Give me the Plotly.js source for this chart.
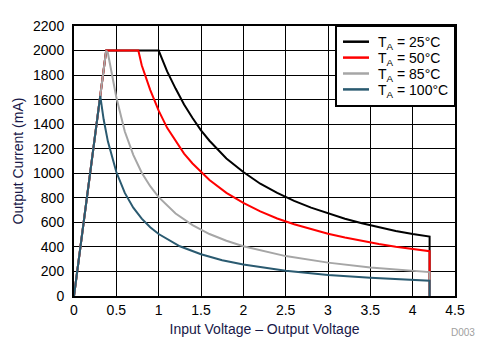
<!DOCTYPE html>
<html>
<head>
<meta charset="utf-8">
<script src="https://cdn.plot.ly/plotly-3.0.1.min.js"></script>
<style>html,body{margin:0;padding:0;background:#fff;}#chart{width:493px;height:362px;}</style>
</head>
<body>
<div id="chart"></div>
<script>
// Input voltage - output voltage (V) and output current (mA) per ambient temperature
const seriesNames = ["T<sub>A</sub> = 25°C", "T<sub>A</sub> = 50°C", "T<sub>A</sub> = 85°C", "T<sub>A</sub> = 100°C"];
const seriesColors = ["#000000", "#ff0000", "#a6a6a6", "#2a5a70"];

const x25 = [0, 0.05, 0.1, 0.15, 0.2, 0.25, 0.31, 0.38, 1.0, 1.1, 1.2, 1.3, 1.4, 1.5, 1.6, 1.8, 2.0, 2.2, 2.4, 2.6, 2.8, 3.0, 3.2, 3.4, 3.6, 3.8, 4.0, 4.2, 4.2];
const y25 = [0, 250, 520, 790, 1050, 1320, 1630, 2000, 2000, 1830, 1690, 1560, 1450, 1350, 1265, 1120, 1010, 915, 840, 775, 720, 672, 630, 593, 560, 530, 505, 484, 0];

const x50 = [0, 0.05, 0.1, 0.15, 0.2, 0.25, 0.31, 0.38, 0.76, 0.8, 0.9, 1.0, 1.1, 1.2, 1.3, 1.4, 1.5, 1.6, 1.8, 2.0, 2.2, 2.4, 2.6, 2.8, 3.0, 3.2, 3.4, 3.6, 3.8, 4.0, 4.2, 4.2];
const y50 = [0, 250, 520, 790, 1050, 1320, 1630, 2000, 2000, 1880, 1680, 1510, 1370, 1260, 1160, 1080, 1010, 945, 840, 758, 690, 632, 585, 543, 507, 476, 448, 424, 402, 382, 365, 0];

const x85 = [0, 0.05, 0.1, 0.15, 0.2, 0.25, 0.31, 0.38, 0.4, 0.45, 0.5, 0.6, 0.7, 0.8, 0.9, 1.0, 1.2, 1.4, 1.6, 1.8, 2.0, 2.5, 3.0, 3.5, 4.0, 4.2, 4.2];
const y85 = [0, 250, 520, 790, 1050, 1320, 1630, 2000, 1980, 1790, 1620, 1340, 1150, 1005, 895, 805, 672, 577, 505, 450, 405, 325, 272, 233, 204, 195, 0];

const x100 = [0, 0.05, 0.1, 0.15, 0.2, 0.25, 0.31, 0.35, 0.4, 0.5, 0.6, 0.7, 0.8, 0.9, 1.0, 1.25, 1.5, 1.75, 2.0, 2.5, 3.0, 3.5, 4.0, 4.2, 4.2];
const y100 = [0, 250, 520, 790, 1050, 1320, 1630, 1440, 1260, 1010, 840, 720, 630, 560, 505, 405, 340, 292, 256, 206, 172, 148, 130, 125, 0];

const xTickVals = [0, 0.5, 1, 1.5, 2, 2.5, 3, 3.5, 4, 4.5];
const xTickText = ["0", "0.5", "1", "1.5", "2", "2.5", "3", "3.5", "4", "4.5"];
const yTickVals = [0, 200, 400, 600, 800, 1000, 1200, 1400, 1600, 1800, 2000, 2200];
const yTickText = ["0", "200", "400", "600", "800", "1000", "1200", "1400", "1600", "1800", "2000", "2200"];

const xs = [x25, x50, x85, x100];
const ys = [y25, y50, y85, y100];
const traces = xs.map((x, i) => ({
  x: x, y: ys[i], type: "scatter", mode: "lines", name: seriesNames[i],
  line: {color: seriesColors[i], width: 2}, showlegend: false
}));

const font = "Arial, 'Liberation Sans', sans-serif";
const titleColor = "#181848";

// Legend box (paper coordinates), built from the series names and colours
const plotW = 381, plotH = 270;
const legX0 = 262 / plotW, legX1 = 1, legY1 = 1, legY0 = 1 - 80 / plotH;
const sampleX0 = 269 / plotW, sampleX1 = 295 / plotW, textX = 302 / plotW;
const rowTop = 15.7, rowStep = 15.9;
const shapes = [{
  type: "rect", xref: "paper", yref: "paper", x0: legX0, x1: legX1, y0: legY0, y1: legY1,
  fillcolor: "#ffffff", line: {color: "#000000", width: 2}, layer: "above"
}];
const annotations = [];
seriesNames.forEach((name, i) => {
  const yy = 1 - (rowTop + i * rowStep) / plotH;
  shapes.push({
    type: "line", xref: "paper", yref: "paper", x0: sampleX0, x1: sampleX1, y0: yy, y1: yy,
    line: {color: seriesColors[i], width: 2.5}, layer: "above"
  });
  annotations.push({
    text: name, xref: "paper", yref: "paper", x: textX, y: yy - 1.5 / plotH,
    xanchor: "left", yanchor: "middle", showarrow: false,
    font: {family: font, size: 14, color: "#000000"}
  });
});
annotations.push({
  text: "D003", xref: "paper", yref: "paper", x: 1.058, y: -0.137,
  xanchor: "right", yanchor: "middle", showarrow: false,
  font: {family: font, size: 10, color: "#a0a0a0"}
});

const layout = {
  width: 493, height: 362,
  margin: {l: 74, r: 38, t: 26, b: 66, pad: 0},
  paper_bgcolor: "#ffffff", plot_bgcolor: "#ffffff",
  font: {family: font, size: 14, color: "#000000"},
  showlegend: false,
  xaxis: {
    range: [0, 4.5], tickvals: xTickVals, ticktext: xTickText,
    showgrid: true, gridcolor: "#000000", gridwidth: 1,
    showline: true, linecolor: "#000000", linewidth: 2, mirror: true,
    zeroline: false, ticks: "", ticklen: 0,
    tickfont: {family: font, size: 14, color: "#000000"},
    title: {text: "Input Voltage – Output Voltage", font: {family: font, size: 14, color: titleColor}, standoff: 7}
  },
  yaxis: {
    range: [0, 2200], tickvals: yTickVals, ticktext: yTickText,
    showgrid: true, gridcolor: "#000000", gridwidth: 1,
    showline: true, linecolor: "#000000", linewidth: 2, mirror: true,
    zeroline: false, ticks: "outside", ticklen: 5, tickcolor: "rgba(0,0,0,0)",
    tickfont: {family: font, size: 14, color: "#000000"},
    title: {text: "Output Current (mA)", font: {family: font, size: 14, color: titleColor}, standoff: 6}
  },
  shapes: shapes,
  annotations: annotations
};

Plotly.newPlot("chart", traces, layout, {staticPlot: true, displayModeBar: false});
</script>
</body>
</html>
